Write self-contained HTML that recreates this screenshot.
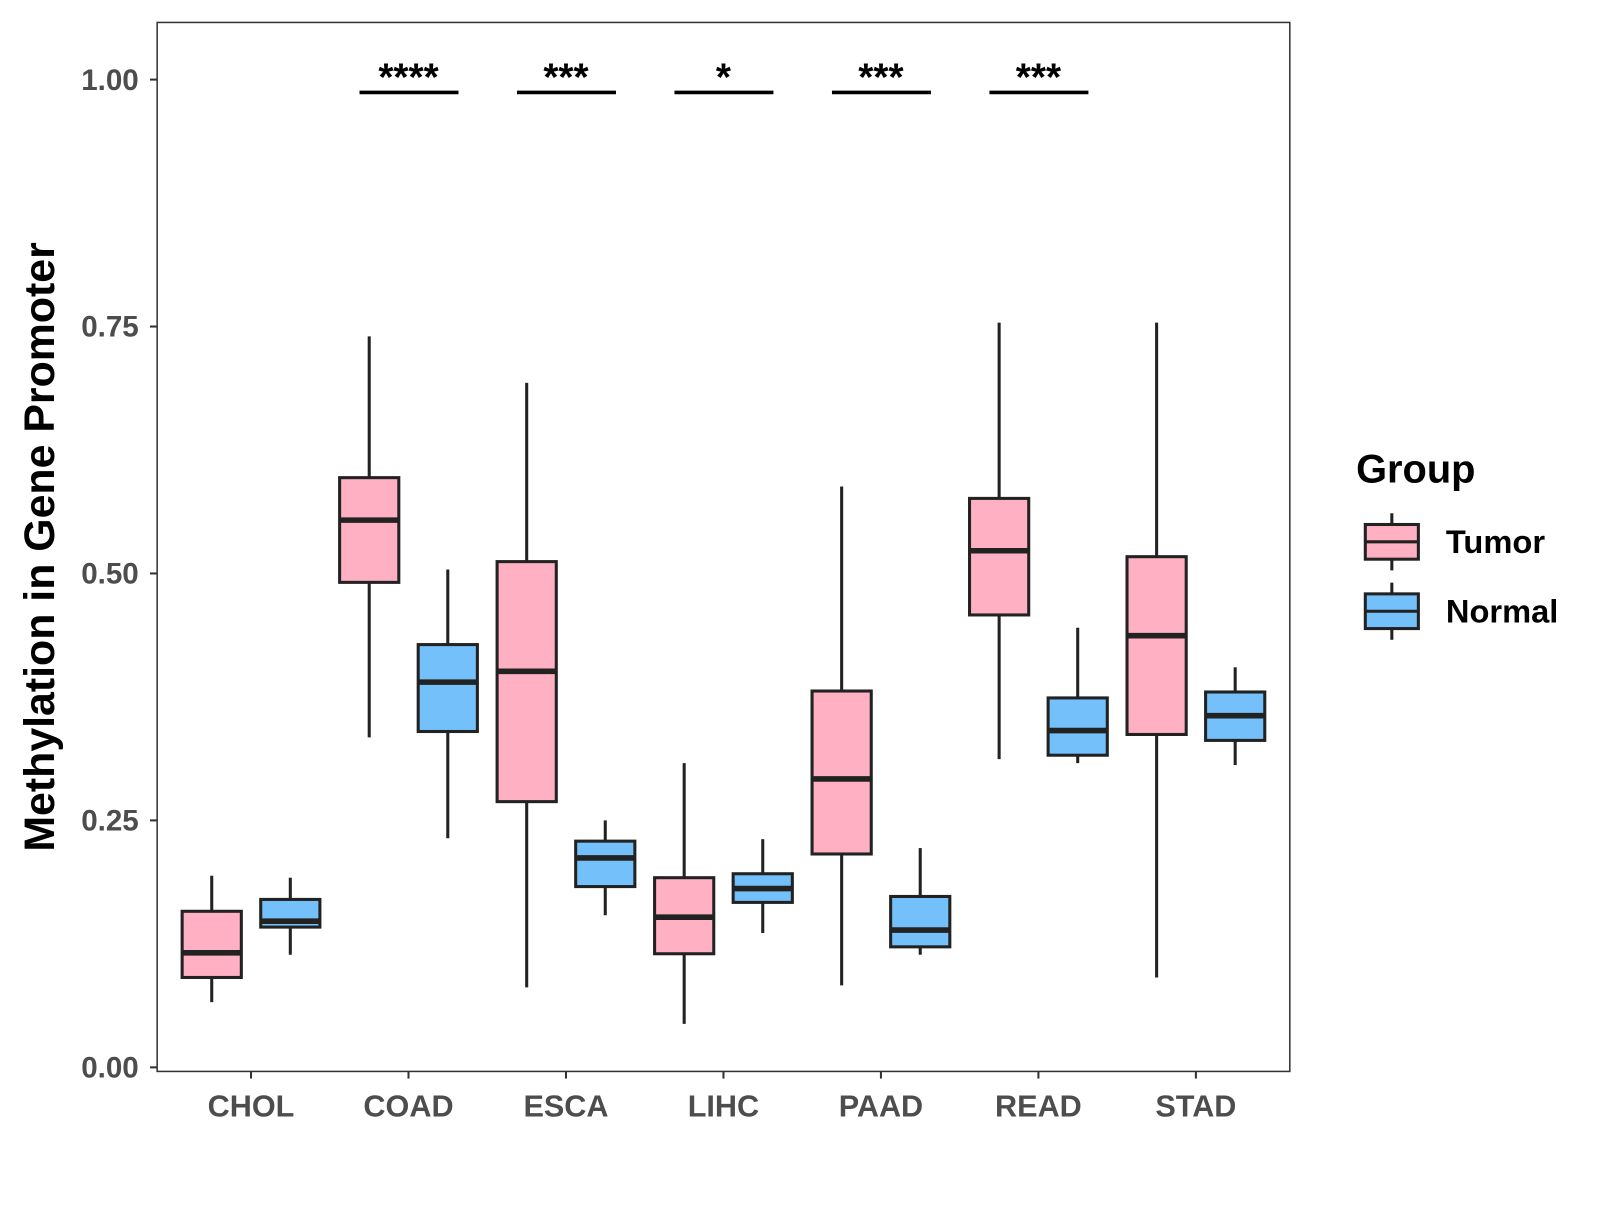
<!DOCTYPE html>
<html><head><meta charset="utf-8"><style>
html,body{margin:0;padding:0;background:#fff;}
svg text{font-family:"Liberation Sans",Arial,sans-serif;font-weight:bold;}
</style></head><body>
<svg id="chart" width="1600" height="1200" viewBox="0 0 1568 1176" xmlns="http://www.w3.org/2000/svg">
<rect x="0" y="0" width="1568" height="1176" fill="#fff"/>
<g id="plot"></g>
</svg>
<script>
const categories = ["CHOL","COAD","ESCA","LIHC","PAAD","READ","STAD"];
// [lowWhisker, q1, median, q3, highWhisker]
const tumorStats = [
 [0.066,0.091,0.116,0.158,0.194],
 [0.334,0.491,0.554,0.597,0.740],
 [0.081,0.269,0.401,0.512,0.693],
 [0.044,0.115,0.152,0.192,0.308],
 [0.083,0.216,0.292,0.381,0.588],
 [0.312,0.458,0.523,0.576,0.754],
 [0.091,0.337,0.437,0.517,0.754]
];
const normalStats = [
 [0.114,0.142,0.148,0.170,0.192],
 [0.232,0.340,0.390,0.428,0.504],
 [0.154,0.183,0.212,0.229,0.250],
 [0.136,0.167,0.181,0.196,0.231],
 [0.114,0.122,0.139,0.173,0.222],
 [0.308,0.316,0.341,0.374,0.445],
 [0.306,0.331,0.356,0.380,0.405]
];
const yTicks = [0,0.25,0.5,0.75,1.0];
const yTickLabels = ["0.00","0.25","0.50","0.75","1.00"];
const sigCategories = ["COAD","ESCA","LIHC","PAAD","READ"];
const sigLabels = ["****","***","*","***","***"];
const sigLevel = 0.987;

const NS="http://www.w3.org/2000/svg";
const g=document.getElementById('plot');
const P={l:154,r:1264,t:22,b:1050};
const y=v=>1046-v*968;
const x=i=>246+i*154.33;
function mk(tag,attrs,parent){const e=document.createElementNS(NS,tag);for(const k in attrs)e.setAttribute(k,attrs[k]);(parent||g).appendChild(e);return e;}

const panel=mk('rect',{x:P.l,y:P.t,width:P.r-P.l,height:P.b-P.t,fill:'none',stroke:'#333','stroke-width':1.5});



yTicks.forEach((v,i)=>{
 const t=mk('line',{x1:P.l-7,x2:P.l,y1:y(v),y2:y(v),stroke:'#333','stroke-width':2});
 
 
 const l=mk('text',{x:P.l-18,y:y(v)+10,'text-anchor':'end','font-size':29,fill:'#4d4d4d'});
 l.textContent=yTickLabels[i];
 
 
});
categories.forEach((c,i)=>{
 const t=mk('line',{x1:x(i),x2:x(i),y1:P.b,y2:P.b+7,stroke:'#333','stroke-width':2});
 
 
 const l=mk('text',{x:x(i),y:1094,'text-anchor':'middle','font-size':30,fill:'#4d4d4d'});
 l.textContent=c;
 
 
});

function box(cx,s,fill,name){
 const grp=mk('g',{});
 
 
 const hw=29;
 mk('line',{x1:cx,x2:cx,y1:y(s[4]),y2:y(s[3]),stroke:'#222','stroke-width':3},grp);
 mk('line',{x1:cx,x2:cx,y1:y(s[1]),y2:y(s[0]),stroke:'#222','stroke-width':3},grp);
 mk('rect',{x:cx-hw,y:y(s[3]),width:2*hw,height:y(s[1])-y(s[3]),fill:fill,stroke:'#222','stroke-width':3},grp);
 mk('line',{x1:cx-hw,x2:cx+hw,y1:y(s[2]),y2:y(s[2]),stroke:'#222','stroke-width':5.5},grp);
}
categories.forEach((c,i)=>{
 box(x(i)-38.5,tumorStats[i],'#FFB0C2','tumor-box-'+c.toLowerCase());
 box(x(i)+38.5,normalStats[i],'#74C0FA','normal-box-'+c.toLowerCase());
});

sigCategories.forEach((c,k)=>{
 const i=categories.indexOf(c);
 const ln=mk('line',{x1:x(i)-48,x2:x(i)+49,y1:y(sigLevel),y2:y(sigLevel),stroke:'#000','stroke-width':3.5});
 
 
 const t=mk('text',{x:x(i),y:y(sigLevel)-2,'text-anchor':'middle','font-size':38,fill:'#000'});
 t.textContent=sigLabels[k];
 
 
});

const yt=mk('text',{x:0,y:0,transform:'translate(53,536) rotate(-90)','text-anchor':'middle','font-size':42,fill:'#000'});
yt.textContent='Methylation in Gene Promoter';



const lg=mk('g',{});


const lt=mk('text',{x:1329,y:473,'font-size':39,fill:'#000'},lg);
lt.textContent='Group';
[['Tumor','#FFB0C2',531],['Normal','#74C0FA',599]].forEach(([lab,col,cy])=>{
 const e=mk('g',{},lg);
 
 
 mk('line',{x1:1364,x2:1364,y1:cy-28,y2:cy+28,stroke:'#222','stroke-width':3},e);
 mk('rect',{x:1338,y:cy-17,width:52,height:34,fill:col,stroke:'#222','stroke-width':3},e);
 mk('line',{x1:1338,x2:1390,y1:cy,y2:cy,stroke:'#222','stroke-width':3},e);
 const t=mk('text',{x:1417,y:cy+11,'font-size':32,fill:'#000'},e);
 t.textContent=lab;
});
</script>
</body></html>
